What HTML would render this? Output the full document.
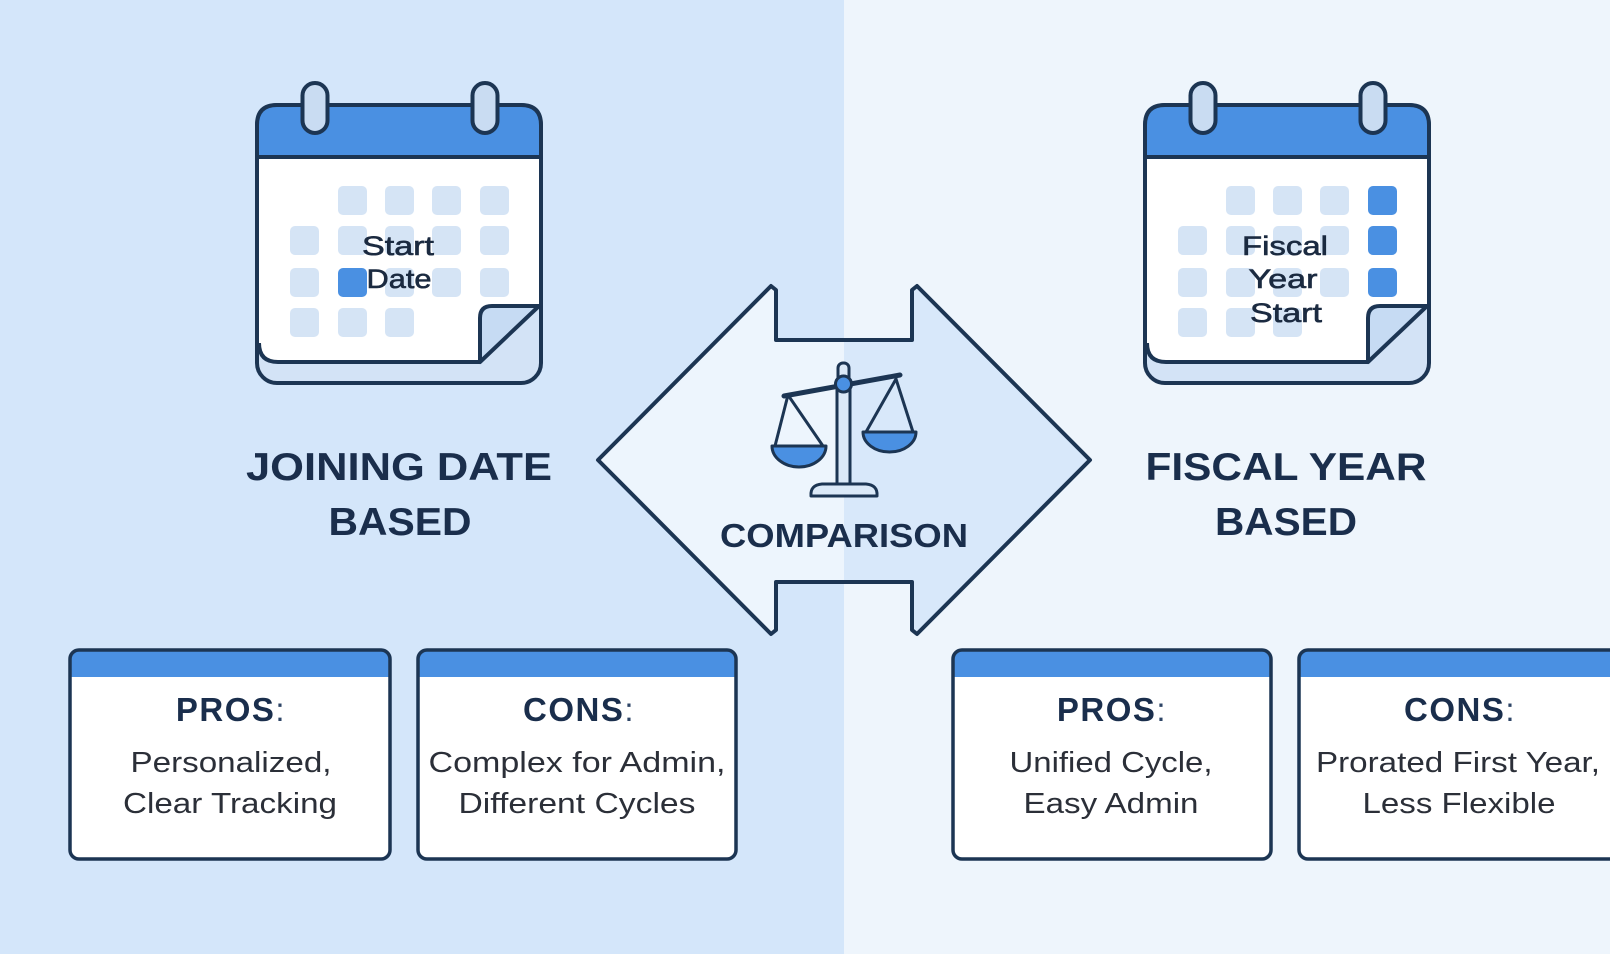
<!DOCTYPE html>
<html>
<head>
<meta charset="utf-8">
<style>
html,body{margin:0;padding:0;width:1610px;height:954px;overflow:hidden;background:#eef5fc;}
svg{display:block;}
text{font-family:"Liberation Sans",Arial,sans-serif;}
</style>
</head>
<body>
<svg width="1610" height="954" viewBox="0 0 1610 954" xmlns="http://www.w3.org/2000/svg">
  <defs>
    <linearGradient id="arrowFill" gradientUnits="userSpaceOnUse" x1="597" y1="0" x2="1090" y2="0">
      <stop offset="0" stop-color="#edf5fd"/>
      <stop offset="0.501" stop-color="#edf5fd"/>
      <stop offset="0.501" stop-color="#d8e8fa"/>
      <stop offset="1" stop-color="#d8e8fa"/>
    </linearGradient>
  </defs>

  <!-- backgrounds -->
  <rect x="0" y="0" width="844" height="954" fill="#d4e6fa"/>
  <rect x="844" y="0" width="766" height="954" fill="#eef5fc"/>

  <!-- ===== Calendar 1 ===== -->
  <g id="cal1">
    <rect x="257" y="105" width="284" height="278" rx="20" fill="#d3e3f6" stroke="#1c3553" stroke-width="4"/>
    <path d="M259,159 H539 V306 L480,362 H278 Q259,362 259,343 Z" fill="#ffffff"/>
    <path d="M259,343 Q259,362 278,362 H480" fill="none" stroke="#1c3553" stroke-width="4"/>
    <path d="M257,157 V125 Q257,105 277,105 H521 Q541,105 541,125 V157 Z" fill="#4a90e2" stroke="#1c3553" stroke-width="4" stroke-linejoin="round"/>
    <!-- grid -->
    <g fill="#d5e4f5">
      <rect x="338" y="186" width="29" height="29" rx="5"/>
      <rect x="385" y="186" width="29" height="29" rx="5"/>
      <rect x="432" y="186" width="29" height="29" rx="5"/>
      <rect x="480" y="186" width="29" height="29" rx="5"/>
      <rect x="290" y="226" width="29" height="29" rx="5"/>
      <rect x="338" y="226" width="29" height="29" rx="5"/>
      <rect x="385" y="226" width="29" height="29" rx="5"/>
      <rect x="432" y="226" width="29" height="29" rx="5"/>
      <rect x="480" y="226" width="29" height="29" rx="5"/>
      <rect x="290" y="268" width="29" height="29" rx="5"/>
      <rect x="385" y="268" width="29" height="29" rx="5"/>
      <rect x="432" y="268" width="29" height="29" rx="5"/>
      <rect x="480" y="268" width="29" height="29" rx="5"/>
      <rect x="290" y="308" width="29" height="29" rx="5"/>
      <rect x="338" y="308" width="29" height="29" rx="5"/>
      <rect x="385" y="308" width="29" height="29" rx="5"/>
    </g>
    <rect x="338" y="268" width="29" height="29" rx="5" fill="#4a90e2"/>
    <!-- page curl -->
    <path d="M480,362 V318 Q480,306 492,306 H539 Z" fill="#c6dbf3" stroke="#1c3553" stroke-width="4" stroke-linejoin="round"/>
    <!-- rings -->
    <rect x="302.5" y="83" width="25" height="50" rx="12.5" fill="#c9dcf2" stroke="#1c3553" stroke-width="4"/>
    <rect x="472.5" y="83" width="25" height="50" rx="12.5" fill="#c9dcf2" stroke="#1c3553" stroke-width="4"/>
    <text x="398" y="255" font-size="27" text-anchor="middle" fill="#1b2a40" stroke="#1b2a40" stroke-width="0.6" textLength="72" lengthAdjust="spacingAndGlyphs">Start</text>
    <text x="399" y="288" font-size="27" text-anchor="middle" fill="#1b2a40" stroke="#1b2a40" stroke-width="0.6" textLength="65" lengthAdjust="spacingAndGlyphs">Date</text>
  </g>

  <!-- ===== Calendar 2 ===== -->
  <g id="cal2" transform="translate(888,0)">
    <rect x="257" y="105" width="284" height="278" rx="20" fill="#d3e3f6" stroke="#1c3553" stroke-width="4"/>
    <path d="M259,159 H539 V306 L480,362 H278 Q259,362 259,343 Z" fill="#ffffff"/>
    <path d="M259,343 Q259,362 278,362 H480" fill="none" stroke="#1c3553" stroke-width="4"/>
    <path d="M257,157 V125 Q257,105 277,105 H521 Q541,105 541,125 V157 Z" fill="#4a90e2" stroke="#1c3553" stroke-width="4" stroke-linejoin="round"/>
    <g fill="#d5e4f5">
      <rect x="338" y="186" width="29" height="29" rx="5"/>
      <rect x="385" y="186" width="29" height="29" rx="5"/>
      <rect x="432" y="186" width="29" height="29" rx="5"/>
      <rect x="290" y="226" width="29" height="29" rx="5"/>
      <rect x="338" y="226" width="29" height="29" rx="5"/>
      <rect x="385" y="226" width="29" height="29" rx="5"/>
      <rect x="432" y="226" width="29" height="29" rx="5"/>
      <rect x="290" y="268" width="29" height="29" rx="5"/>
      <rect x="338" y="268" width="29" height="29" rx="5"/>
      <rect x="385" y="268" width="29" height="29" rx="5"/>
      <rect x="432" y="268" width="29" height="29" rx="5"/>
      <rect x="290" y="308" width="29" height="29" rx="5"/>
      <rect x="338" y="308" width="29" height="29" rx="5"/>
      <rect x="385" y="308" width="29" height="29" rx="5"/>
    </g>
    <g fill="#4a90e2">
      <rect x="480" y="186" width="29" height="29" rx="5"/>
      <rect x="480" y="226" width="29" height="29" rx="5"/>
      <rect x="480" y="268" width="29" height="29" rx="5"/>
    </g>
    <path d="M480,362 V318 Q480,306 492,306 H539 Z" fill="#c6dbf3" stroke="#1c3553" stroke-width="4" stroke-linejoin="round"/>
    <rect x="302.5" y="83" width="25" height="50" rx="12.5" fill="#c9dcf2" stroke="#1c3553" stroke-width="4"/>
    <rect x="472.5" y="83" width="25" height="50" rx="12.5" fill="#c9dcf2" stroke="#1c3553" stroke-width="4"/>
  </g>
  <text x="1285" y="255" font-size="27" text-anchor="middle" fill="#1b2a40" stroke="#1b2a40" stroke-width="0.6" textLength="86" lengthAdjust="spacingAndGlyphs">Fiscal</text>
  <text x="1283" y="288" font-size="27" text-anchor="middle" fill="#1b2a40" stroke="#1b2a40" stroke-width="0.6" textLength="69" lengthAdjust="spacingAndGlyphs">Year</text>
  <text x="1286" y="322" font-size="27" text-anchor="middle" fill="#1b2a40" stroke="#1b2a40" stroke-width="0.6" textLength="72" lengthAdjust="spacingAndGlyphs">Start</text>

  <!-- ===== Titles ===== -->
  <text x="399" y="480" font-size="39" font-weight="bold" text-anchor="middle" fill="#1a2e4c" textLength="306" lengthAdjust="spacingAndGlyphs">JOINING DATE</text>
  <text x="400" y="535" font-size="39" font-weight="bold" text-anchor="middle" fill="#1a2e4c" textLength="143" lengthAdjust="spacingAndGlyphs">BASED</text>
  <text x="1286" y="480" font-size="39" font-weight="bold" text-anchor="middle" fill="#1a2e4c" textLength="281" lengthAdjust="spacingAndGlyphs">FISCAL YEAR</text>
  <text x="1286" y="535" font-size="39" font-weight="bold" text-anchor="middle" fill="#1a2e4c" textLength="142" lengthAdjust="spacingAndGlyphs">BASED</text>

  <!-- ===== Double arrow ===== -->
  <path d="M598,460 L771,286 L776,290 V340 H912 V290 L917,286 L1090,460 L917,634 L912,630 V582 H776 V630 L771,634 Z"
        fill="url(#arrowFill)" stroke="#1c3553" stroke-width="4" stroke-linejoin="round"/>

  <!-- scale icon -->
  <g stroke="#1c3553" stroke-linecap="round" stroke-linejoin="round">
    <line x1="788" y1="395" x2="775" y2="446" stroke-width="3"/>
    <line x1="788" y1="395" x2="823" y2="446" stroke-width="3"/>
    <line x1="896" y1="379" x2="866" y2="432" stroke-width="3"/>
    <line x1="896" y1="379" x2="913" y2="432" stroke-width="3"/>
    <path d="M772,446 H826 A27,21 0 0 1 772,446 Z" fill="#4a90e2" stroke-width="3"/>
    <path d="M863,432 H916 A26.5,20 0 0 1 863,432 Z" fill="#4a90e2" stroke-width="3"/>
    <line x1="784" y1="396" x2="900" y2="375" stroke-width="5"/>
    <rect x="837" y="386" width="13" height="98" fill="#dbe9f8" stroke-width="3"/>
    <rect x="838" y="363" width="11" height="20" rx="5" fill="#dbe9f8" stroke-width="3"/>
    <circle cx="843.5" cy="384" r="8" fill="#4a90e2" stroke-width="3"/>
    <path d="M811,496 Q810,485 822,484 H866 Q878,485 877,496 Z" fill="#dbe9f8" stroke-width="3"/>
  </g>
  <text x="844" y="547" font-size="33" font-weight="bold" text-anchor="middle" fill="#1a2e4c" textLength="248" lengthAdjust="spacingAndGlyphs">COMPARISON</text>

  <!-- ===== Boxes ===== -->
  <!-- Box 1 -->
  <g>
    <rect x="70" y="650" width="320" height="209" rx="9" fill="#ffffff"/>
    <path d="M70,677 V659 Q70,650 79,650 H381 Q390,650 390,659 V677 Z" fill="#4a90e2"/>
    <rect x="70" y="650" width="320" height="209" rx="9" fill="none" stroke="#1c3553" stroke-width="3.5"/>
    <text x="231" y="721" font-size="33" text-anchor="middle" fill="#1a2e4c" letter-spacing="1.5"><tspan font-weight="bold">PROS</tspan><tspan fill="#2e4566">:</tspan></text>
    <text x="231" y="772" font-size="29" text-anchor="middle" fill="#2b2f38" textLength="201" lengthAdjust="spacingAndGlyphs">Personalized,</text>
    <text x="230" y="813" font-size="29" text-anchor="middle" fill="#2b2f38" textLength="214" lengthAdjust="spacingAndGlyphs">Clear Tracking</text>
  </g>
  <!-- Box 2 -->
  <g>
    <rect x="418" y="650" width="318" height="209" rx="9" fill="#ffffff"/>
    <path d="M418,677 V659 Q418,650 427,650 H727 Q736,650 736,659 V677 Z" fill="#4a90e2"/>
    <rect x="418" y="650" width="318" height="209" rx="9" fill="none" stroke="#1c3553" stroke-width="3.5"/>
    <text x="579" y="721" font-size="33" text-anchor="middle" fill="#1a2e4c" letter-spacing="1.5"><tspan font-weight="bold">CONS</tspan><tspan fill="#2e4566">:</tspan></text>
    <text x="577" y="772" font-size="29" text-anchor="middle" fill="#2b2f38" textLength="297" lengthAdjust="spacingAndGlyphs">Complex for Admin,</text>
    <text x="577" y="813" font-size="29" text-anchor="middle" fill="#2b2f38" textLength="237" lengthAdjust="spacingAndGlyphs">Different Cycles</text>
  </g>
  <!-- Box 3 -->
  <g>
    <rect x="953" y="650" width="318" height="209" rx="9" fill="#ffffff"/>
    <path d="M953,677 V659 Q953,650 962,650 H1262 Q1271,650 1271,659 V677 Z" fill="#4a90e2"/>
    <rect x="953" y="650" width="318" height="209" rx="9" fill="none" stroke="#1c3553" stroke-width="3.5"/>
    <text x="1112" y="721" font-size="33" text-anchor="middle" fill="#1a2e4c" letter-spacing="1.5"><tspan font-weight="bold">PROS</tspan><tspan fill="#2e4566">:</tspan></text>
    <text x="1111" y="772" font-size="29" text-anchor="middle" fill="#2b2f38" textLength="203" lengthAdjust="spacingAndGlyphs">Unified Cycle,</text>
    <text x="1111" y="813" font-size="29" text-anchor="middle" fill="#2b2f38" textLength="175" lengthAdjust="spacingAndGlyphs">Easy Admin</text>
  </g>
  <!-- Box 4 (extends past right edge) -->
  <g>
    <rect x="1299" y="650" width="322" height="209" rx="9" fill="#ffffff"/>
    <path d="M1299,677 V659 Q1299,650 1308,650 H1612 Q1621,650 1621,659 V677 Z" fill="#4a90e2"/>
    <rect x="1299" y="650" width="322" height="209" rx="9" fill="none" stroke="#1c3553" stroke-width="3.5"/>
    <text x="1460" y="721" font-size="33" text-anchor="middle" fill="#1a2e4c" letter-spacing="1.5"><tspan font-weight="bold">CONS</tspan><tspan fill="#2e4566">:</tspan></text>
    <text x="1458" y="772" font-size="29" text-anchor="middle" fill="#2b2f38" textLength="284" lengthAdjust="spacingAndGlyphs">Prorated First Year,</text>
    <text x="1459" y="813" font-size="29" text-anchor="middle" fill="#2b2f38" textLength="193" lengthAdjust="spacingAndGlyphs">Less Flexible</text>
  </g>
</svg>
</body>
</html>
